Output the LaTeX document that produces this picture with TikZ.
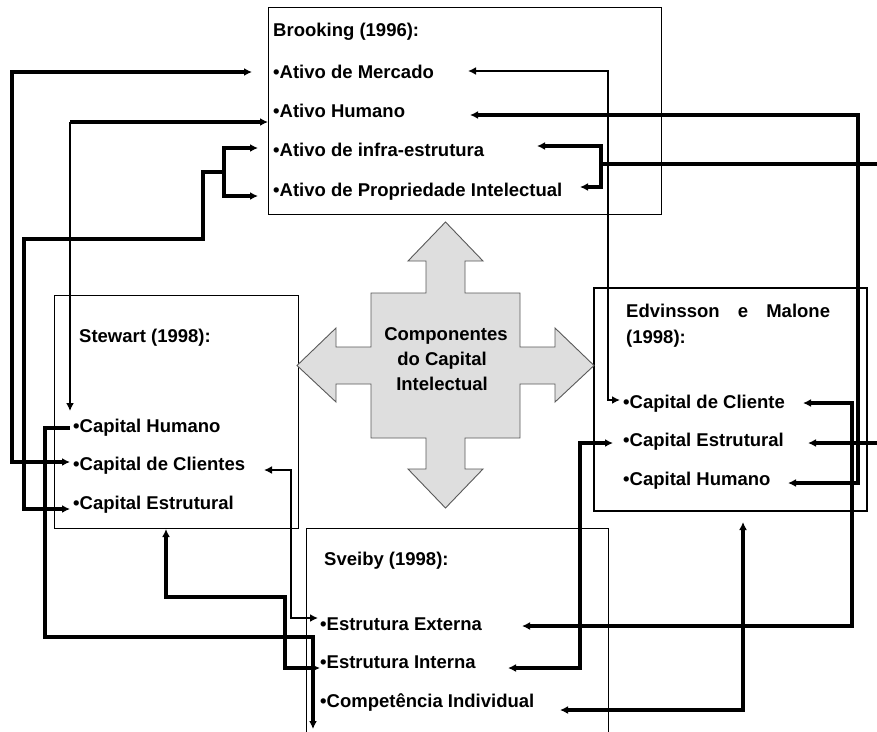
\documentclass[tikz,border=0pt]{standalone}
\usepackage{fontspec}
\setmainfont{Liberation Sans}
\usetikzlibrary{arrows.meta}
\begin{document}
\begin{tikzpicture}[x=1pt,y=-1pt,
  >={Latex[length=8pt,width=8pt]},
  item/.style={anchor=base west, inner sep=0pt, font=\fontsize{18.5}{22}\selectfont\bfseries},
  mid/.style={anchor=base, inner sep=0pt, font=\fontsize{18.5}{22}\selectfont\bfseries},
  panel/.style={draw=black, line width=1.2pt, anchor=north west, inner sep=0pt, fill=white},
  crossarrow/.style={fill=black!13, draw=black!65, line width=0.9pt, line join=miter},
  link/.style={line width=3.2pt, line join=miter},
  thinlink/.style={line width=2.2pt, line join=miter}
]
\useasboundingbox (0,0) rectangle (877,731);
\clip (0,0) rectangle (877,731);
\fill[white] (0,0) rectangle (877,731);

% the four author panels
\node[panel, minimum width=393pt, minimum height=207pt] (brooking) at (268,7) {};
\node[panel, minimum width=244pt, minimum height=233pt] (stewart) at (54,295) {};
\node[panel, minimum width=273pt, minimum height=223pt, line width=1.6pt] (edvinsson) at (593,287) {};
\node[panel, minimum width=302pt, minimum height=260pt] (sveiby) at (306,528) {};

% panel texts
\node[item] (bT) at (273,36) {Brooking (1996):};
\node[item] (b1) at (273,78) {•Ativo de Mercado};
\node[item] (b2) at (273,117) {•Ativo Humano};
\node[item] (b3) at (273,156) {•Ativo de infra-estrutura};
\node[item] (b4) at (273,196) {•Ativo de Propriedade Intelectual};

\node[item] (sT) at (79,342) {Stewart (1998):};
\node[item] (s1) at (73,432) {•Capital Humano};
\node[item] (s2) at (73,470) {•Capital de Clientes};
\node[item] (s3) at (73,509) {•Capital Estrutural};

\node[item] (eT) at (626,317) {Edvinsson\hspace{13pt} e\hspace{13pt} Malone};
\node[item] (eT2) at (626,343) {(1998):};
\node[item] (e1) at (623,408) {•Capital de Cliente};
\node[item] (e2) at (623,446) {•Capital Estrutural};
\node[item] (e3) at (623,485) {•Capital Humano};

\node[item] (vT) at (324,565) {Sveiby (1998):};
\node[item] (v1) at (320,630) {•Estrutura Externa};
\node[item] (v2) at (320,668) {•Estrutura Interna};
\node[item] (v3) at (320,707) {•Competência Individual};

% central four-way arrow
\draw[crossarrow] (445.5,222) -- (483,261) -- (465,261) -- (465,293) -- (520,293) -- (520,347)
  -- (555,347) -- (555,328) -- (594,365.5) -- (555,402) -- (555,384) -- (520,384) -- (520,438)
  -- (465,438) -- (465,469) -- (483,469) -- (445.5,508) -- (408,469) -- (426,469) -- (426,438)
  -- (371,438) -- (371,384) -- (336,384) -- (336,402) -- (297,365.5) -- (336,328) -- (336,347)
  -- (371,347) -- (371,293) -- (426,293) -- (426,261) -- (408,261) -- cycle;
\node[mid] (c1) at (446,340) {Componentes};
\node[mid] (c2) at (442,365) {do Capital};
\node[mid] (c3) at (442,390) {Intelectual};

% connector end points
\coordinate (pb1L) at (252,72);
\coordinate (pb2L) at (268,122);
\coordinate (pb3L) at (258,148);
\coordinate (pb4L) at (258,196);
\coordinate (pb1R) at (468,71);
\coordinate (pb2R) at (470,115);
\coordinate (pb3R) at (537,146);
\coordinate (pb4R) at (580,187);
\coordinate (ps1T) at (70,411);
\coordinate (ps1L) at (70,428);
\coordinate (ps2L) at (70,462);
\coordinate (ps3L) at (70,509);
\coordinate (ps2R) at (264,470);
\coordinate (ps3B) at (166,529);
\coordinate (pe1L) at (620,400);
\coordinate (pe2L) at (613,443);
\coordinate (pe1R) at (803,403);
\coordinate (pe2R) at (808,443);
\coordinate (pe3R) at (788,483);
\coordinate (pe3B) at (743,522);
\coordinate (pv1L) at (318,618);
\coordinate (pv2L) at (320,668);
\coordinate (pv1R) at (522,626);
\coordinate (pv2R) at (508,668);
\coordinate (pv3R) at (560,710);
\coordinate (pvDown) at (313,729);
\coordinate (rimTop) at (877,164);
\coordinate (rimMid) at (877,443);

% connectors
\draw[link, <->] (ps2L) -- (12,462) -- (12,72) -- (pb1L);
\draw[thinlink, <-] (ps1T) -- (70,122);
\draw[link, ->] (70,122) -- (pb2L);
\draw[link, <-] (ps3L) -- (24,509) -- (24,239) -- (203,239) -- (203,172) -- (224,172);
\draw[link, ->] (224,172) -- (224,148) -- (pb3L);
\draw[link, ->] (224,172) -- (224,196) -- (pb4L);
\draw[link, ->] (ps1L) -- (45,428) -- (45,637) -- (313,637) -- (pvDown);
\draw[thinlink, <->] (ps2R) -- (291,470) -- (291,618) -- (pv1L);
\draw[link, <->] (ps3B) -- (166,597) -- (285,597) -- (285,668) -- (pv2L);
\draw[thinlink, <->] (pb1R) -- (608,71) -- (608,400) -- (pe1L);
\draw[link, <->] (pb2R) -- (858,115) -- (858,483) -- (pe3R);
\draw[link, <->] (pb3R) -- (601,146) -- (601,187) -- (pb4R);
\draw[link] (601,164) -- (rimTop);
\draw[link, <-] (pe2R) -- (rimMid);
\draw[link, <->] (pe3B) -- (743,710) -- (pv3R);
\draw[link, <->] (pe1R) -- (852,403) -- (852,626) -- (pv1R);
\draw[link, <->] (pv2R) -- (580,668) -- (580,443) -- (pe2L);
\end{tikzpicture}
\end{document}
